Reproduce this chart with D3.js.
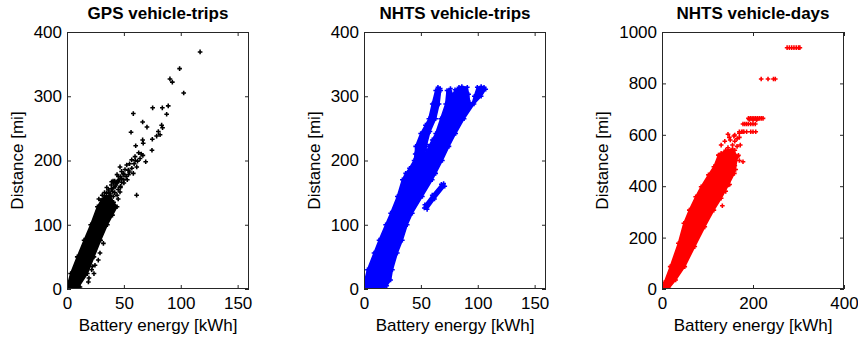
<!DOCTYPE html>
<html>
<head>
<meta charset="utf-8">
<script src="https://cdn.jsdelivr.net/npm/d3@7/dist/d3.min.js"></script>
<style>
  body { margin: 0; background: #fff; }
  svg { display: block; font-family: "Liberation Sans", Arial, sans-serif; }
</style>
</head>
<body>
<svg id="fig" width="858" height="341"></svg>
<script>
// panel titles and axis ticks
const titles = ['GPS vehicle-trips', 'NHTS vehicle-trips', 'NHTS vehicle-days'];
const xTicksTrips = [0, 50, 100, 150];
const yTicksTrips = [0, 100, 200, 300, 400];
const xTicksDays = [0, 200, 400];
const yTicksDays = [0, 200, 400, 600, 800, 1000];

// GPS vehicle-trips: solid core outline [kWh, mi] and scattered points
const gpsCore = [[0,0],[0,3],[3.2,24],[9,50],[15,76],[20.8,100],[26.7,128],[30,138],[33,145],
  [38,145],[41,135],[44,128],[40,115],[35.5,100],[29.6,76],[23.7,50],[17.9,24],[10.5,4],[9,0]];
const gpsPoints = [[117,369],[99,343],[90.5,327],[92.6,322],[102.6,305],[83.8,282],[89,285],[75.3,282],
  [58.3,273],[66.5,260],[70.3,252],[56.3,244],[87.6,272],[83.2,255],[84,251],[80.3,245],[81.8,240],
  [78.8,238],[75,233],[74.7,216],[66.5,232],[67,227],[60.4,223],[65.3,210],[66.7,208],[69.2,198],
  [61.2,146],[39.3,167],[40.5,168],[41,165],[52.5,193],[56.9,201],[59.8,206],[53.9,185],[49.5,180],
  [45.1,175],[61.3,190],[64.2,203],[46.6,190],[58.3,180],[42.2,159],[46.6,151],[37.8,139],[40.7,144],
  [36.3,154],[34.9,149],[43.6,167],[24.6,37],[18.8,11],[11.4,3],[21.7,30],[27.5,45],[29,56],
  [32,71],[48,172],[51,186],[55,195],[57,188],[50,165],[47,158],[44,178],[48,183],[54,178],
  [62,199],[63,212],[38,120],[33,110],[30,95],[26,70],[28,140],[31,146],[36,140],[38,148],
  [40,152],[42,150],[44,146],[45,155],[47,160],[43,162],[41,158],[39,156],[37,150],[48,166],
  [50,170],[46,170],[44,165],[42,168],[45,168],[52,175],[53,170],[55,182],[59,195],[60,200],
  [50,178],[47,175],[23.7,24],[22.3,35],[19.3,17],[33,150],[35,158],[39,162],[45,140]];

// NHTS vehicle-trips: outline of the dense cloud and a detached strand
const tripCore = [[0,0],[0,8],[3,30],[8.8,56],[13.2,76],[19,100],[23.4,118],[29.3,144],[33.7,170],
  [36.6,180],[40,188],[44,200],[45,210],[45.4,222],[49.8,242],[54,255],[57,265],[60,288],[63,309],
  [65,314],[67,312],[67.4,309],[66,288],[63,265],[58,245],[55,225],[54.2,210],[57,222],[60,232],
  [63,242],[67.4,265],[71.8,288],[73,309],[76,312],[78,302],[80,310],[83.5,314],[86,315],[90.8,314],
  [92,303],[93,290],[95,288],[97,300],[99.6,314],[103,315],[105.5,314],[107,311],[103,300],[96.7,288],
  [88,265],[80.6,242],[74.7,222],[68.9,200],[63,180],[60,170],[51.3,144],[42.5,118],[38,100],
  [33.7,76],[29.3,56],[25,30],[23.4,14],[20,5],[17.6,1],[17,0]];
const tripStrand = [[53,126],[55.5,124],[62,140],[71,160],[70,164],[68,163],[60,146],[53.5,131]];

// NHTS vehicle-days: dense cloud outline and sparse upper points
const dayCore = [[0,0],[5,25],[18,87],[36,178],[48,256],[60,307],[74,359],[86,398],
  [102,444],[114,476],[124,521],[140,540],[155,545],[166,515],[159,450],[146,405],[130,353],
  [114,307],[94,242],[72,165],[50,87],[30,35],[15,3],[10,0]];
const dayPoints = [[275,939],[280,939],[285,939],[290,939],[295,939],[300,939],[303,939],
  [218,817],[233,817],[245,817],[249,817],
  [190,664],[194,664],[198,664],[202,664],[206,664],[210,664],[214,664],[218,664],[222,664],
  [192,660],[200,658],[208,658],
  [178,642],[182,642],[186,642],[190,642],[195,642],[200,642],[205,642],
  [170,612],[175,612],[180,612],[186,612],[195,612],[200,612],[206,612],
  [145,602],[160,599],[170,606],[178,612],[150,580],[160,575],[165,585],[170,590],[155,560],
  [145,550],[165,555],[172,560],[140,530],[150,535],[160,540],[130,528],[125,520],[135,500],
  [178,495],[170,500],[160,505],[148,590],[158,595],[132.6,324],[148.6,407],[140,380],[152,470],
  [160,480],[130,560],[138,575],[168,520],[162,465]];

const panels = [
  {title: titles[0], left: 67, color: '#000000', xMax: 160, yMax: 400, xTicks: xTicksTrips,
   yTicks: yTicksTrips, yLabelX: 23, polys: [gpsCore], points: gpsPoints},
  {title: titles[1], left: 364, color: '#0000ff', xMax: 160, yMax: 400, xTicks: xTicksTrips,
   yTicks: yTicksTrips, yLabelX: 320, polys: [tripCore, tripStrand], points: []},
  {title: titles[2], left: 662, color: '#ff0000', xMax: 400, yMax: 1000, xTicks: xTicksDays,
   yTicks: yTicksDays, yLabelX: 608, polys: [dayCore], points: dayPoints}
];

const plotW = 182, plotTop = 32, plotBottom = 289;
const svg = d3.select('#fig');
const marker = d3.symbol().type(d3.symbolCross).size(12);

panels.forEach(function(p, i) {
  const x = d3.scaleLinear().domain([0, p.xMax]).range([p.left, p.left + plotW]);
  const y = d3.scaleLinear().domain([0, p.yMax]).range([plotBottom, plotTop]);
  const g = svg.append('g');

  g.append('clipPath').attr('id', 'clip' + i)
      .append('rect').attr('x', p.left).attr('y', plotTop)
      .attr('width', plotW).attr('height', plotBottom - plotTop);

  const plot = g.append('g').attr('clip-path', 'url(#clip' + i + ')');
  const line = d3.line().x(d => x(d[0])).y(d => y(d[1]));

  // dense clouds as filled outlines, stroked to mimic the marker fuzz at the edge
  plot.selectAll('path.core').data(p.polys).enter().append('path')
      .attr('class', 'core')
      .attr('d', d => line(d) + 'Z')
      .attr('fill', p.color)
      .attr('stroke', p.color)
      .attr('stroke-width', 1.5)
      .attr('stroke-linejoin', 'round');

  // markers on the outline vertices and the scattered points
  const allPts = p.points.concat(d3.merge(p.polys));
  plot.selectAll('path.pt').data(allPts).enter().append('path')
      .attr('class', 'pt')
      .attr('transform', d => 'translate(' + x(d[0]) + ',' + y(d[1]) + ')')
      .attr('d', marker)
      .attr('fill', p.color);

  // box with inward ticks on all sides
  const axisColor = '#262626';
  const tickLen = 4;
  const fmt = d3.format('d');
  const xAxisB = d3.axisBottom(x).tickValues(p.xTicks).tickFormat(fmt)
      .tickSizeInner(-tickLen).tickSizeOuter(0).tickPadding(8);
  const xAxisT = d3.axisTop(x).tickValues(p.xTicks).tickSizeInner(-tickLen).tickSizeOuter(0).tickFormat('');
  const yAxisL = d3.axisLeft(y).tickValues(p.yTicks).tickFormat(fmt)
      .tickSizeInner(-tickLen).tickSizeOuter(0).tickPadding(5);
  const yAxisR = d3.axisRight(y).tickValues(p.yTicks).tickSizeInner(-tickLen).tickSizeOuter(0).tickFormat('');

  const axes = [
    g.append('g').attr('transform', 'translate(0,' + plotBottom + ')').call(xAxisB),
    g.append('g').attr('transform', 'translate(0,' + plotTop + ')').call(xAxisT),
    g.append('g').attr('transform', 'translate(' + p.left + ',0)').call(yAxisL),
    g.append('g').attr('transform', 'translate(' + (p.left + plotW) + ',0)').call(yAxisR)
  ];
  axes.forEach(function(a) {
    a.select('.domain').remove();
    a.selectAll('line').attr('stroke', axisColor);
    a.selectAll('text').attr('fill', '#000').style('font-size', '17px')
        .style('font-family', '"Liberation Sans", Arial, sans-serif');
  });

  g.append('rect')
      .attr('x', p.left + 0.5).attr('y', plotTop + 0.5)
      .attr('width', plotW - 1).attr('height', plotBottom - plotTop - 1)
      .attr('fill', 'none').attr('stroke', axisColor).attr('stroke-width', 1);

  g.append('text')
      .attr('x', p.left + plotW / 2).attr('y', 19)
      .attr('text-anchor', 'middle')
      .style('font-size', '17px').style('font-weight', 'bold')
      .text(p.title);

  g.append('text')
      .attr('x', p.left + plotW / 2).attr('y', 331)
      .attr('text-anchor', 'middle')
      .style('font-size', '17px')
      .text('Battery energy [kWh]');

  g.append('text')
      .attr('transform', 'translate(' + p.yLabelX + ',' + ((plotTop + plotBottom) / 2) + ') rotate(-90)')
      .attr('text-anchor', 'middle')
      .style('font-size', '17px')
      .text('Distance [mi]');
});
</script>
</body>
</html>
